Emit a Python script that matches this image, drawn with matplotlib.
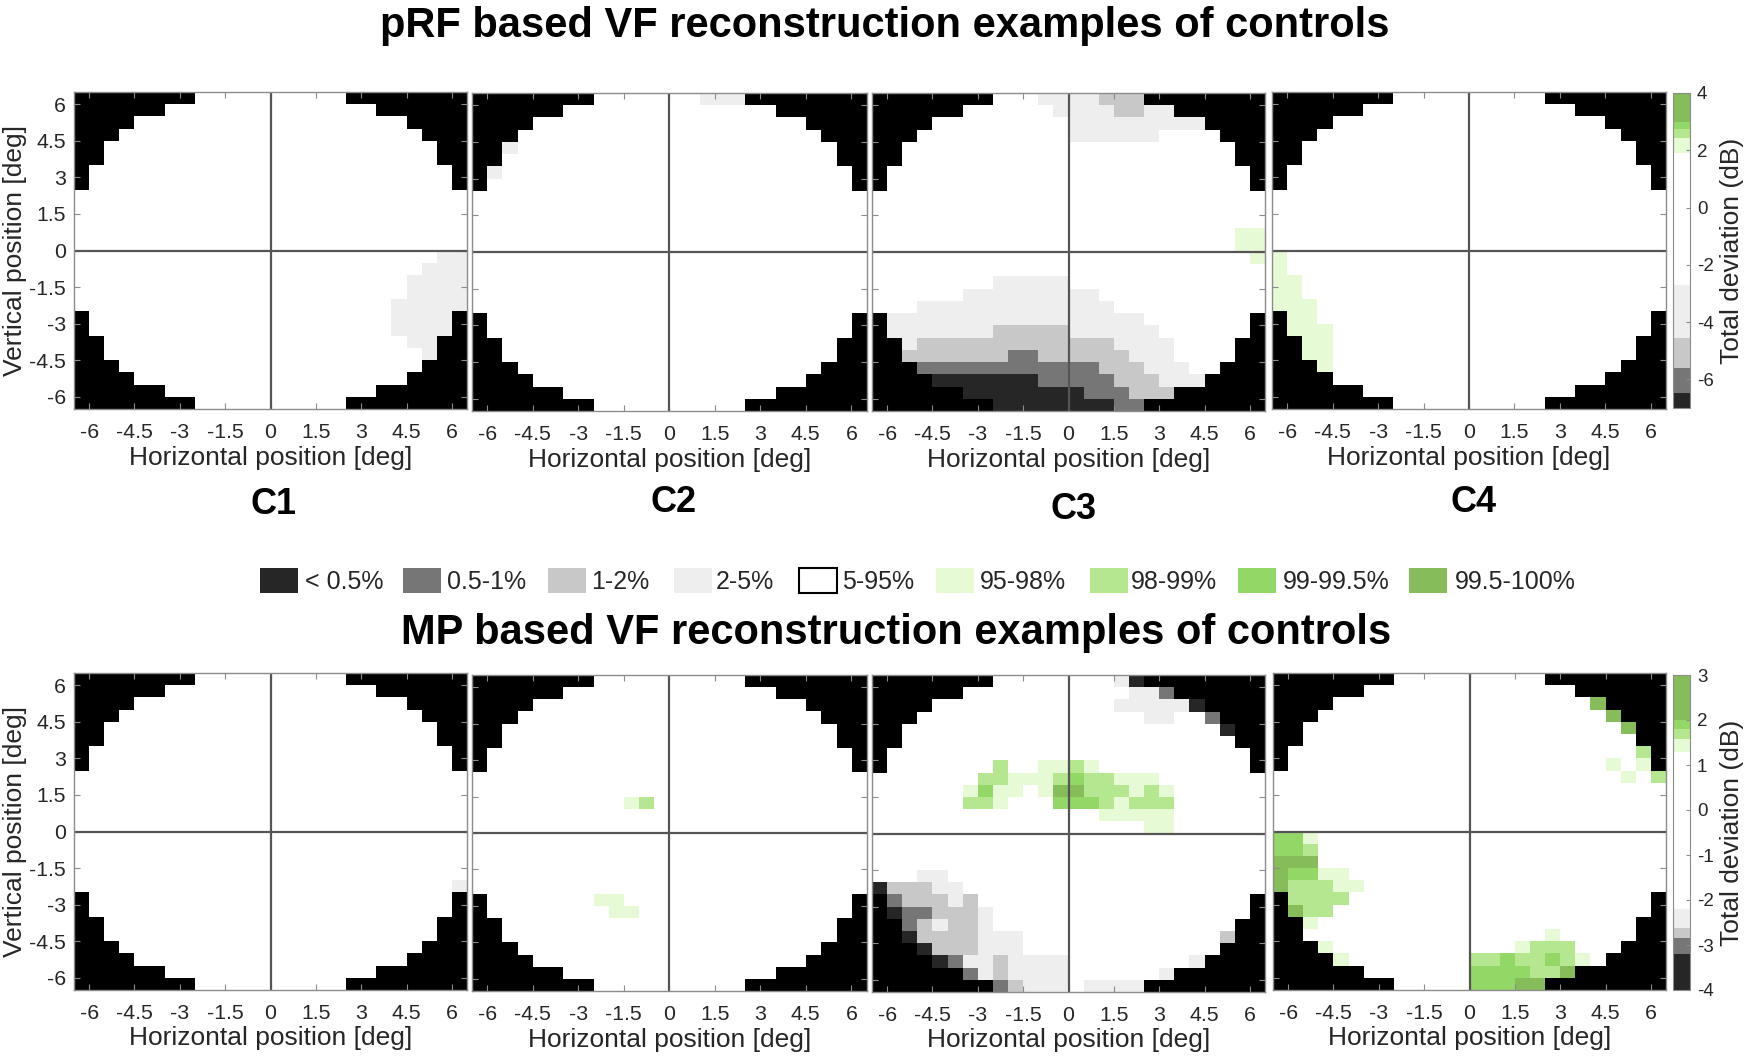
import numpy as np
import matplotlib
matplotlib.use('Agg')
import matplotlib.pyplot as plt
from matplotlib.cm import ScalarMappable
from matplotlib.colors import BoundaryNorm, ListedColormap
from matplotlib.patches import Rectangle

plt.rcParams['font.family'] = ['Liberation Sans', 'DejaVu Sans']

W, H = 1757, 1057
TEXT = '#262626'
EDGE = '#8c8c8c'

# classes: . = 5-95%, a-d = low percentiles, e-h = high percentiles, # = outside the VF
class_keys = '#abcd.efgh'
class_colors = ['#000000', '#262626', '#767676', '#c8c8c8', '#eeeeee', '#ffffff',
                '#e5fad5', '#b4e78f', '#93d766', '#86bc5a']

legend_labels = ['< 0.5%', '0.5-1%', '1-2%', '2-5%', '5-95%', '95-98%', '98-99%', '99-99.5%', '99.5-100%']
legend_keys = 'abcd.efgh'

# black cells at each side of a row, top to bottom
mask_cols = [8, 6, 4, 3, 2, 2, 1, 1, 0, 0, 0, 0, 0, 0, 0, 0, 0, 0, 1, 1, 2, 2, 3, 4, 6, 8]

# row -> (first column, cell classes)
prf_c1 = {13: (24, 'dd'), 14: (23, 'ddd'), 15: (22, 'dddd'), 16: (22, 'dddd'), 17: (21, 'ddddd'),
          18: (21, 'dddd'), 19: (21, 'dddd'), 20: (22, 'dd'), 21: (23, 'd')}
prf_c2 = {0: (15, 'ddd'), 4: (2, 'd'), 6: (1, 'd')}
prf_c3 = {0: (11, 'ddddccc'),
          1: (12, 'ddddccdd'),
          2: (13, 'ddddddddd'),
          3: (13, 'dddddd'),
          11: (24, 'ee'),
          12: (24, 'ee'),
          13: (25, 'e'),
          15: (8, 'ddddd'),
          16: (6, 'ddddddddd'),
          17: (3, 'ddddddddddddd'),
          18: (1, 'ddddddddddddddddd'),
          19: (1, 'dddddddcccccdddddd'),
          20: (2, 'dcccccccccccccdddd'),
          21: (2, 'cccccccbbccccccddd'),
          22: (3, 'bbbbbbbbbbbbcccddd'),
          23: (4, 'aaaaaaabbbbbcccddd'),
          24: (6, 'aaaaaaaabbbccc'),
          25: (8, 'aaaaaaaabb')}
prf_c4 = {13: (0, 'e'), 14: (0, 'e'), 15: (0, 'ee'), 16: (0, 'ee'), 17: (0, 'eee'),
          18: (1, 'ee'), 19: (1, 'eee'), 20: (2, 'ee'), 21: (2, 'ee'), 22: (3, 'e')}

mp_c1 = {17: (25, 'd')}
mp_c2 = {10: (10, 'ef'), 18: (8, 'ee'), 19: (9, 'ee')}
mp_c3 = {0: (16, 'da'),
         1: (17, 'ddb'),
         2: (16, 'ddddda'),
         3: (18, 'dd..b'),
         4: (23, 'a'),
         7: (8, 'f..eefe'),
         8: (7, 'ffeeefgffeee'),
         9: (6, 'egee.ehhfffefe'),
         10: (6, 'ffe...gggfefff'),
         11: (15, 'eeeee'),
         12: (18, 'ee'),
         16: (3, 'dd'),
         17: (0, 'acccdd'),
         18: (1, 'bcccdc'),
         19: (1, 'abbcccd'),
         20: (2, 'bcdccd'),
         21: (2, 'accccddd.............c'),
         22: (3, 'acccddd'),
         23: (4, 'abddcdddd........d'),
         24: (6, 'bdcdddd......d'),
         25: (8, 'bcddd.dddd')}
mp_c4 = {2: (21, 'h'),
         3: (22, 'h'),
         4: (23, 'h'),
         6: (24, 'f'),
         7: (22, 'e.e'),
         8: (23, 'e.f'),
         13: (0, 'gge'),
         14: (0, 'ggf'),
         15: (0, 'hhh'),
         16: (0, 'hggee'),
         17: (0, 'hfffee'),
         18: (1, 'ffff'),
         19: (1, 'hff'),
         20: (2, 'e'),
         21: (18, 'e'),
         22: (3, 'e............efff'),
         23: (4, 'e........ffgffgfe'),
         24: (13, 'ggggffh'),
         25: (13, 'ggghh')}

tick_vals = [-6, -4.5, -3, -1.5, 0, 1.5, 3, 4.5, 6]
tick_labels = ['-6', '-4.5', '-3', '-1.5', '0', '1.5', '3', '4.5', '6']

# colour band edges on the two bars, dB
cb_top_bounds = [-7, -6.49, -5.62, -4.57, -2.71, 1.91, 2.44, 2.73, 2.99, 4]
cb_top_ticks = [-6, -4, -2, 0, 2, 4]
cb_bot_bounds = [-4, -3.2, -2.84, -2.63, -2.2, 1.28, 1.57, 1.81, 2, 3]
cb_bot_ticks = [-4, -3, -2, -1, 0, 1, 2, 3]


def px_axes(fig, left, top, right, bottom):
    return fig.add_axes([left / W, 1 - bottom / H, (right - left) / W, (bottom - top) / H])


def make_grid(cells):
    grid = np.full((26, 26), class_keys.index('.'))
    for row, n in enumerate(mask_cols):
        if n:
            grid[row, :n] = 0
            grid[row, -n:] = 0
    for row, (start, vals) in cells.items():
        for k, c in enumerate(vals):
            if c != '.':
                grid[row, start + k] = class_keys.index(c)
    return grid


def plot_panel(fig, box, cells, left_labels=False):
    ax = px_axes(fig, *box)
    ax.imshow(make_grid(cells), cmap=ListedColormap(class_colors), vmin=-0.5, vmax=9.5, aspect='auto',
              interpolation='nearest', extent=(-6.5, 6.5, -6.5, 6.5))
    ax.axhline(0, color='#555555', lw=1.6)
    ax.axvline(0, color='#555555', lw=1.6)
    ax.set_xticks(tick_vals, tick_labels)
    ax.set_yticks(tick_vals, tick_labels if left_labels else [])
    ax.tick_params(direction='in', top=True, right=True, length=4, width=0.8, color=EDGE,
                   labelcolor=TEXT, labelsize=15.3)
    ax.tick_params(axis='x', pad=10)
    ax.tick_params(axis='y', pad=6)
    for s in ax.spines.values():
        s.set_color(EDGE)
        s.set_linewidth(1.0)
    ax.set_xlabel('Horizontal position [deg]', fontsize=19, color=TEXT, va='center')
    ax.xaxis.set_label_coords(0.5, -48.5 / (box[3] - box[1]))
    if left_labels:
        ax.set_ylabel('Vertical position [deg]', fontsize=19, color=TEXT, va='center')
        ax.yaxis.set_label_coords(-59 / (box[2] - box[0]), 0.5)
    return ax


def plot_bar(fig, box, bounds, ticks):
    cax = px_axes(fig, *box)
    colors = class_colors[1:]
    sm = ScalarMappable(norm=BoundaryNorm(bounds, len(colors)), cmap=ListedColormap(colors))
    cb = fig.colorbar(sm, cax=cax, spacing='proportional', ticks=ticks)
    cb.ax.set_yticklabels([str(t) for t in ticks])
    cb.ax.tick_params(direction='in', length=3, width=0.8, color=EDGE, labelcolor=TEXT,
                      labelsize=13.5, pad=5)
    cb.ax.minorticks_off()
    cb.outline.set_edgecolor(EDGE)
    cb.outline.set_linewidth(0.8)
    cb.set_label('Total deviation (dB)', fontsize=19, color=TEXT, va='center')
    cb.ax.yaxis.set_label_coords((1731.5 - box[0]) / (box[2] - box[0]), 0.5)


def plot_legend(fig):
    swatch_x = [260, 403, 548, 674, 799, 936, 1090, 1238, 1409]
    text_x = [305, 447, 591, 716, 842, 980, 1131, 1283, 1455]
    for x, tx, key, label in zip(swatch_x, text_x, legend_keys, legend_labels):
        color = class_colors[class_keys.index(key)]
        edge = 'black' if key == '.' else color
        fig.add_artist(Rectangle((x / W, 1 - 593 / H), 38 / W, 25 / H, transform=fig.transFigure,
                                 facecolor=color, edgecolor=edge, lw=1.5 if key == '.' else 0))
        fig.text(tx / W, 1 - 582 / H, label, fontsize=18, color=TEXT, ha='left', va='center')


if __name__ == '__main__':
    fig = plt.figure(figsize=(W / 100, H / 100), dpi=100)

    fig.text(885 / W, 1 - 26 / H, 'pRF based VF reconstruction examples of controls',
             fontsize=30, fontweight='bold', color='black', ha='center', va='center')
    fig.text(896 / W, 1 - 633 / H, 'MP based VF reconstruction examples of controls',
             fontsize=30, fontweight='bold', color='black', ha='center', va='center')

    plot_panel(fig, (74, 92, 467, 409), prf_c1, left_labels=True)
    plot_panel(fig, (472, 93, 866.5, 411), prf_c2)
    plot_panel(fig, (872, 93, 1265, 411), prf_c3)
    plot_panel(fig, (1272, 92, 1666, 409), prf_c4)

    plot_panel(fig, (74, 673, 467, 990), mp_c1, left_labels=True)
    plot_panel(fig, (472, 675, 866.5, 991), mp_c2)
    plot_panel(fig, (872, 675, 1265, 992), mp_c3)
    plot_panel(fig, (1273, 673, 1666, 990), mp_c4)

    plot_bar(fig, (1673, 93, 1690, 408), cb_top_bounds, cb_top_ticks)
    plot_bar(fig, (1673, 675, 1690, 990), cb_bot_bounds, cb_bot_ticks)

    for name, x, y in [('C1', 273, 505), ('C2', 674, 502), ('C3', 1073, 509), ('C4', 1474, 502)]:
        fig.text(x / W, 1 - y / H, name, fontsize=26, fontweight='bold', color='black',
                 ha='center', va='center')

    plot_legend(fig)
    fig.savefig('out.png', dpi=100)
